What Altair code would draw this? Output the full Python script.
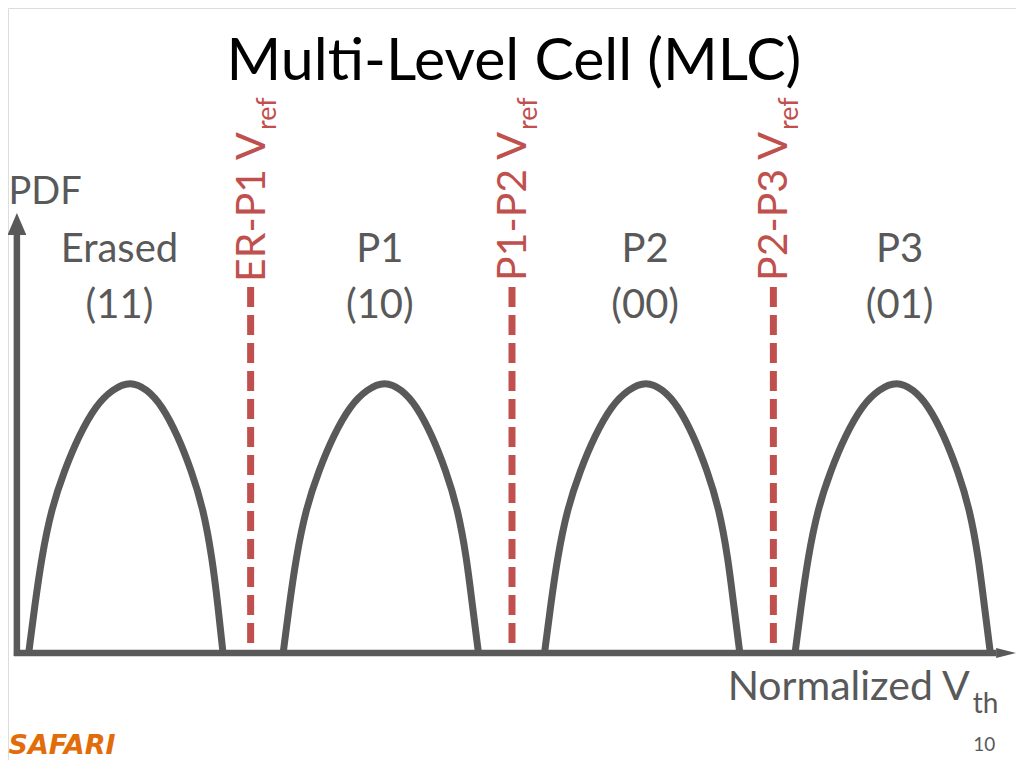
import altair as alt
import pandas as pd

# ---------------- data ----------------
states = ["Erased", "P1", "P2", "P3"]
state_codes = ["(11)", "(10)", "(00)", "(01)"]
label_vth = [10.4, 36.8, 63.7, 89.5]          # centre of the state labels

# threshold voltage samples (normalized units) along each distribution
vth_erased = [1.2, 1.8, 2.5, 3.5, 4.8, 6.3, 8.0, 9.7, 11.5,
              13.2, 14.7, 16.3, 17.7, 18.9, 19.8, 20.4, 20.9]
vth_p1 = [27.0, 27.6, 28.3, 29.3, 30.6, 32.1, 33.8, 35.5, 37.3,
          39.0, 40.5, 42.1, 43.5, 44.7, 45.6, 46.2, 46.8]
vth_p2 = [53.5, 54.1, 54.8, 55.8, 57.1, 58.6, 60.3, 62.0, 63.8,
          65.5, 67.0, 68.6, 70.0, 71.2, 72.1, 72.7, 73.3]
vth_p3 = [78.9, 79.5, 80.2, 81.2, 82.5, 84.0, 85.7, 87.4, 89.2,
          90.9, 92.4, 94.0, 95.4, 96.6, 97.5, 98.1, 98.7]
# PDF (percent of peak) at those samples
pdf_erased = [0, 17, 35, 53, 67, 80, 91, 97, 100, 97, 91, 80, 67, 53, 35, 17, 0]
pdf_p1 = [0, 17, 35, 53, 67, 80, 91, 97, 100, 97, 91, 80, 67, 53, 35, 17, 0]
pdf_p2 = [0, 17, 35, 53, 67, 80, 91, 97, 100, 97, 91, 80, 67, 53, 35, 17, 0]
pdf_p3 = [0, 17, 35, 53, 67, 80, 91, 97, 100, 97, 91, 80, 67, 53, 35, 17, 0]

vref_names = ["ER-P1 V", "P1-P2 V", "P2-P3 V"]
vref_vth = [23.7, 50.2, 76.7]
vref_pdf_low = 2.9
vref_pdf_high = 134.6

# ---------------- styles ----------------
GRAY = "#595959"
RED = "#C0504D"
FONT = "Lato"

xs = alt.Scale(domain=[-0.9, 101.3], nice=False, zero=False)
ys = alt.Scale(domain=[-39.34, 237.13], nice=False, zero=False)


def X(f="Vth"):
    return alt.X(f"{f}:Q", scale=xs, axis=None)


def Y(f="PDF"):
    return alt.Y(f"{f}:Q", scale=ys, axis=None)


# curves
rows = []
for s, vx, vy in zip(states, [vth_erased, vth_p1, vth_p2, vth_p3],
                     [pdf_erased, pdf_p1, pdf_p2, pdf_p3]):
    for a, b in zip(vx, vy):
        rows.append({"state": s, "Vth": a, "PDF": b})
curves_df = pd.DataFrame(rows)

curves = alt.Chart(curves_df).mark_line(
    interpolate="basis", color=GRAY, strokeWidth=7
).encode(x=X(), y=Y(), detail="state:N")

# dashed read reference lines
vref_df = pd.DataFrame({"Vth": vref_vth, "name": vref_names,
                        "hi": [vref_pdf_high] * 3, "lo": [vref_pdf_low] * 3,
                        "lab": [191.5] * 3, "sub": ["ref"] * 3})
vrefs = alt.Chart(vref_df).mark_rule(
    color=RED, strokeWidth=7, strokeDash=[20, 8]
).encode(x=X(), y=Y("hi"), y2="lo:Q")

vref_text = alt.Chart(vref_df).mark_text(
    angle=270, align="right", baseline="alphabetic", font=FONT, fontSize=41,
    color=RED, dy=14
).encode(x=X(), y=Y("lab"), text="name:N")
vref_sub = alt.Chart(vref_df).mark_text(
    angle=270, align="left", baseline="alphabetic", font=FONT, fontSize=27,
    color=RED, dy=25, dx=2
).encode(x=X(), y=Y("lab"), text="sub:N")

# axes with arrows
xaxis_df = pd.DataFrame({"a": [-0.3], "b": [99.3], "PDF": [0]})
xaxis = alt.Chart(xaxis_df).mark_rule(color=GRAY, strokeWidth=6.5).encode(
    x=X("a"), x2="b:Q", y=Y())
yaxis_df = pd.DataFrame({"Vth": [0.0], "lo": [-1.1], "hi": [154.8]})
yaxis = alt.Chart(yaxis_df).mark_rule(color=GRAY, strokeWidth=6.5).encode(
    x=X(), y=Y("lo"), y2="hi:Q")

xarrow = alt.Chart(pd.DataFrame({"Vth": [100.3], "PDF": [0]})).mark_point(
    shape="M1,0L-1,-0.5L-1,0.5Z", filled=True, size=400, color=GRAY, opacity=1,
    strokeWidth=0
).encode(x=X(), y=Y())
yarrow = alt.Chart(pd.DataFrame({"Vth": [0.0], "PDF": [157.7]})).mark_point(
    shape="M0,-1L-0.86,1L0.86,1Z", filled=True, size=484, color=GRAY, opacity=1,
    strokeWidth=0
).encode(x=X(), y=Y())

# state labels
lab_df = pd.DataFrame({"Vth": label_vth, "name": states, "code": state_codes,
                       "y1": [143.75] * 4, "y2": [123.2] * 4})
lab1 = alt.Chart(lab_df).mark_text(
    font=FONT, fontSize=40, color=GRAY, align="center", baseline="alphabetic"
).encode(x=X(), y=Y("y1"), text="name:N")
lab2 = alt.Chart(lab_df).mark_text(
    font=FONT, fontSize=40, color=GRAY, align="center", baseline="alphabetic"
).encode(x=X(), y=Y("y2"), text="code:N")


def note(text, vth, pdf, **kw):
    return alt.Chart(pd.DataFrame({"Vth": [vth], "PDF": [pdf], "t": [text]})).mark_text(
        baseline="alphabetic", **kw).encode(x=X(), y=Y(), text="t:N")


title = note("Multi-Level Cell (MLC)", 50.4, 210.5, font=FONT, fontSize=59,
             color="#000000", align="center")
pdf_lab = note("PDF", -0.85, 165.1, font=FONT, fontSize=38, color=GRAY, align="left")
xlab = note("Normalized V", 96.6, -17.3, font=FONT, fontSize=41, color=GRAY, align="right")
xsub = note("th", 96.6, -21.9, font=FONT, fontSize=28, color=GRAY, align="left", dx=3)
page = note("10", 99.2, -36.0, font=FONT, fontSize=19, color=GRAY, align="right")
logo = note("SAFARI", -0.85, -37.0, font="DejaVu Sans", fontSize=27, fontWeight="bold",
            fontStyle="italic", color="#E36C0A", align="left")

chart = alt.layer(
    curves, vrefs, xaxis, yaxis, xarrow, yarrow, vref_text, vref_sub,
    lab1, lab2, title, pdf_lab, xlab, xsub, page, logo
).properties(
    width=1008, height=752, padding=0,
    autosize=alt.AutoSizeParams(type="none")
).configure_view(stroke=None).configure(background="white")

chart.save("out.html", embed_options={"renderer": "svg", "actions": False})
